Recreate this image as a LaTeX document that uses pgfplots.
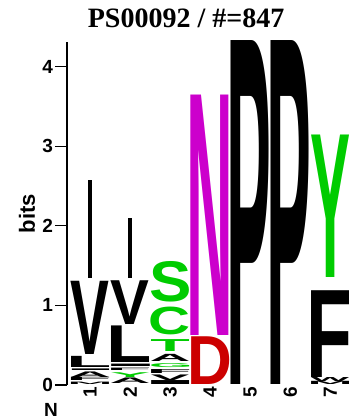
\documentclass[border=0pt]{standalone}
\usepackage{fontspec}
\setmainfont{Liberation Sans}
\newfontfamily\titlefont{Liberation Serif}
\newfontface\logofont{Liberation Sans Bold}
\usepackage{graphicx}
\usepackage{xcolor}
\usepackage{pgfplots}
\pgfplotsset{compat=1.18}
\usepackage{pgfplotstable}
\definecolor{lgreen}{RGB}{0,204,0}
\definecolor{lmag}{RGB}{204,0,204}
\definecolor{lred}{RGB}{204,0,0}

\newcommand\LG[3]{%
  \begingroup
  \logofont
  \edef\tmpL{#1}%
  \pgfmathtruncatemacro\tmpC{#2}%
  \ifcase\tmpC\relax \def\tmpCol{black}\or \def\tmpCol{lgreen}\or \def\tmpCol{lmag}\or \def\tmpCol{lred}\else \def\tmpCol{black}\fi
  \count255=\expandafter\XeTeXcharglyph\expandafter`\tmpL\relax
  \dimen0=\XeTeXglyphbounds1 \count255\relax
  \dimen2=\XeTeXglyphbounds3 \count255\relax
  \setbox0=\hbox{\color{\tmpCol}\kern-\dimen0 \tmpL\kern-\dimen2}%
  \setbox0=\hbox{\raise\dp0\box0}%
  \pgfmathsetmacro\hp{#3*79.5}%
  \resizebox{38pt}{\hp pt}{\box0}%
  \endgroup}

% ci: 0 black, 1 green, 2 magenta, 3 red
\pgfplotstableread{
x b h L ci
1 0.01 0.03 M 0
1 0.05 0.04 F 0
1 0.10 0.07 A 0
1 0.18 0.02 I 0
1 0.22 0.14 L 0
1 0.38 0.92 V 0
2 0.02 0.07 A 0
2 0.10 0.06 Y 1
2 0.18 0.03 F 0
2 0.23 0.03 I 0
2 0.28 0.46 L 0
2 0.76 0.55 V 0
3 0.00 0.05 I 0
3 0.06 0.07 V 0
3 0.14 0.05 F 0
3 0.22 0.05 G 1
3 0.29 0.09 A 0
3 0.42 0.15 T 1
3 0.63 0.35 C 1
3 1.04 0.51 S 1
4 0.00 0.60 D 3
4 0.62 3.02 N 2
5 0.00 4.32 P 0
6 0.00 4.32 P 0
7 0.00 0.04 M 0
7 0.04 0.05 W 0
7 0.10 1.09 F 0
7 1.35 1.79 Y 1
}\logodata

\begin{document}
\begin{tikzpicture}
\begin{axis}[
  x=40pt, y=79.5pt,
  xmin=0.425, xmax=7.45, ymin=0, ymax=4.31,
  axis y line*=left, axis x line*=bottom,
  x axis line style={draw=none},
  y axis line style={line width=1.2pt},
  ytick={0,1,2,3,4}, yticklabels={0,1,2,3,4},
  xtick={1,2,3,4,5,6,7}, xticklabels={1,2,3,4,5,6,7},
  ytick style={line width=1.2pt, black},
  xtick style={draw=none},
  major tick length=12pt,
  ytick align=outside, xtick align=inside,
  tick label style={font=\fontsize{19}{19}\selectfont\bfseries},
  xticklabel style={rotate=90, anchor=east, inner sep=2pt},
  yticklabel style={inner sep=2pt},
  ylabel={bits},
  ylabel style={font=\fontsize{22}{22}\selectfont\bfseries, at={(axis description cs:0,0.5)}, anchor=center, rotate=0, yshift=40pt},
  title={PS00092 / \#=847},
  title style={font=\titlefont\bfseries\fontsize{28}{28}\selectfont, at={(axis description cs:0.4235,1)}, anchor=base, yshift=9pt},
  clip=false,
]
\addplot[line width=4pt, black] coordinates {(1,1.35) (1,2.58)};
\addplot[line width=4pt, black] coordinates {(2,1.35) (2,2.10)};
\addplot[only marks, mark=*, mark size=0pt, mark options={draw=none,fill=none},
  point meta=explicit symbolic,
  visualization depends on={\thisrow{ci} \as \myCI},
  visualization depends on={\thisrow{h} \as \myH},
  nodes near coords={\LG{\pgfplotspointmeta}{\myCI}{\myH}},
  nodes near coords align={south},
  every node near coord/.append style={anchor=south, inner sep=0pt, outer sep=0pt},
] table[x=x, y=b, meta=L] {\logodata};
\node[font=\fontsize{19}{19}\selectfont\bfseries, anchor=north, inner sep=0pt, yshift=-18pt] at (axis description cs:-0.057,0) {N};
\end{axis}
\pgfresetboundingbox
\path[use as bounding box] ([xshift=-67pt,yshift=-33pt]current axis.south west) rectangle ([yshift=42pt]current axis.north east);
\end{tikzpicture}
\end{document}
